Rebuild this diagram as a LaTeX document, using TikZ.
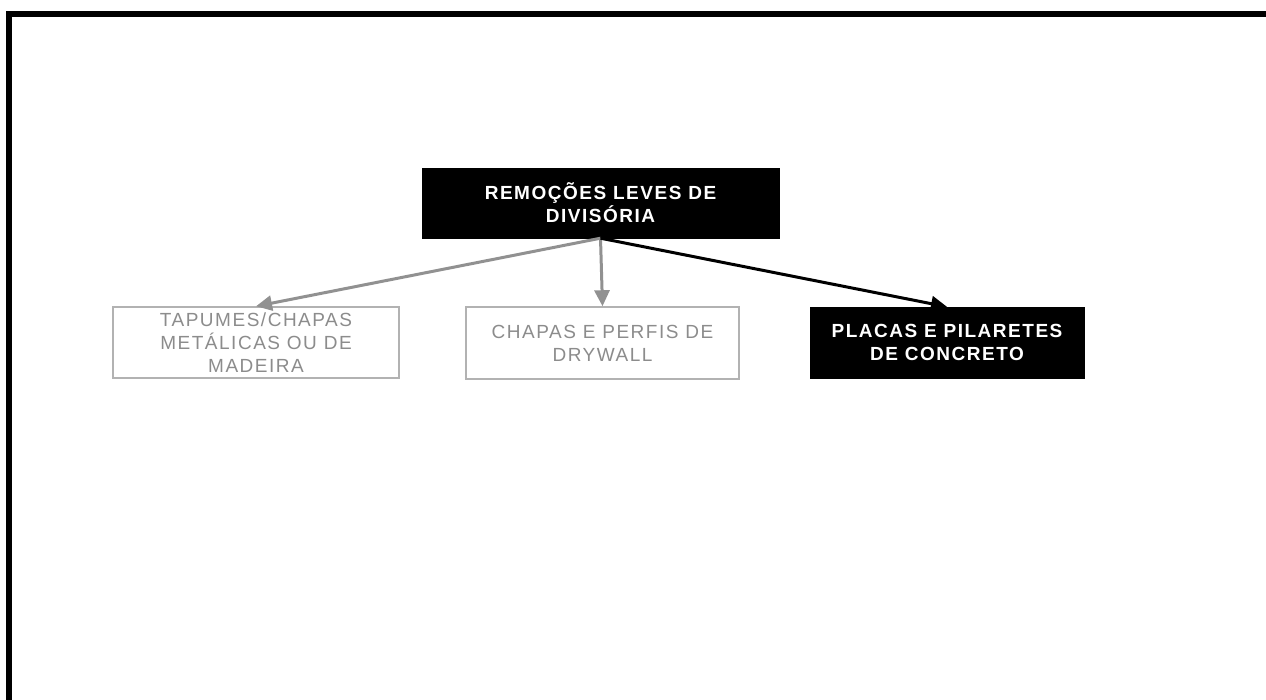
\documentclass[tikz,border=0pt]{standalone}
\usepackage{fontspec}
\setmainfont{Liberation Sans}
\newfontfamily\boxfont[LetterSpace=8]{Liberation Sans}
\usetikzlibrary{arrows.meta}
\definecolor{myGrayText}{RGB}{140,140,140}
\definecolor{myGrayLine}{RGB}{178,178,178}
\definecolor{myGrayArrow}{RGB}{145,145,145}

\begin{document}
\begin{tikzpicture}[x=1pt,y=-1pt,
	darkbox/.style={fill=black, draw=black, text=white, font=\boxfont\fontsize{19}{23}\selectfont\bfseries, align=center, inner sep=0pt},
	lightbox/.style={fill=white, draw=myGrayLine, line width=1.5pt, text=myGrayText, font=\boxfont\fontsize{19}{23}\selectfont, align=center, inner sep=0pt}]
	\useasboundingbox (0,0) rectangle (1266,700);
	\draw[line width=6pt] (9,700) -- (9,14) -- (1266,14);

	\draw (600.5,203) node[darkbox, minimum width=357pt, minimum height=70pt] (R) {REMOÇÕES LEVES DE\\DIVISÓRIA};
	\draw (256,342.5) node[lightbox, minimum width=286pt, minimum height=71pt] (T) {TAPUMES/CHAPAS\\METÁLICAS OU DE\\MADEIRA};
	\draw (602.5,343) node[lightbox, minimum width=273pt, minimum height=72pt] (D) {CHAPAS E PERFIS DE\\DRYWALL};
	\draw (947,342.5) node[darkbox, minimum width=274pt, minimum height=71pt] (P) {PLACAS E PILARETES\\DE CONCRETO};

	\path[-{Triangle[length=16pt,width=15pt]}, line width=3pt]
	(R.south) edge[myGrayArrow] node {} (T.north)
	(R.south) edge[myGrayArrow] node {} (D.north)
	(R.south) edge node {} (P.north)
	;
\end{tikzpicture}
\end{document}
